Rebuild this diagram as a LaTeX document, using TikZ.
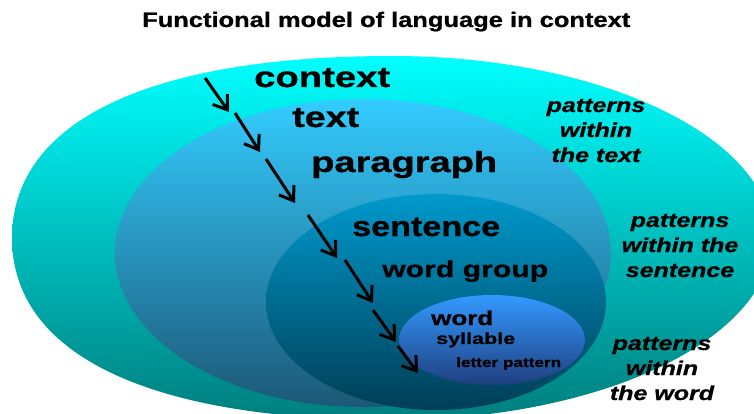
\documentclass[tikz,border=0pt]{standalone}
\usepackage{graphicx}
\usepackage{fontspec}
\setmainfont{Liberation Sans}[BoldFeatures={FakeBold=0.8},BoldItalicFeatures={FakeBold=0.8}]
\usetikzlibrary{arrows.meta}
\definecolor{oneT}{RGB}{0,255,255}
\definecolor{oneB}{RGB}{0,126,126}
\definecolor{twoT}{RGB}{51,204,255}
\definecolor{twoB}{RGB}{28,88,118}
\definecolor{thrT}{RGB}{0,153,204}
\definecolor{thrB}{RGB}{0,62,86}
\definecolor{fouT}{RGB}{51,153,255}
\definecolor{fouB}{RGB}{31,63,127}
\newcommand{\wt}[3]{\resizebox{#1}{\height}{\fontsize{#2}{#2}\selectfont #3}}
\newcommand{\sxi}[1]{\scalebox{1.25}[1]{#1}}
\begin{document}
\begin{tikzpicture}[x=1pt,y=-1pt,
  lab/.style={inner sep=0pt, anchor=base west, font=\bfseries},
  pat/.style={inner sep=0pt, anchor=base, font=\bfseries\itshape\fontsize{20}{25}\selectfont},
  flow/.style={line width=3pt, -{Straight Barb[length=13pt,width=18pt,line width=3pt]}}]
\useasboundingbox (0,0) rectangle (754,414);
\begin{scope}
\clip (0,0) rectangle (754,414);
% outer shape: left half slightly fuller than an ellipse
\shade[top color=oneT, bottom color=oneB]
  (392,56) .. controls (148.8,56) and (12,121.5) .. (12,238)
  .. controls (12,354.5) and (148.8,420) .. (392,420)
  .. controls (601.9,420) and (772,338.5) .. (772,238)
  .. controls (772,137.5) and (601.9,56) .. (392,56) -- cycle;
\shade[top color=twoT, bottom color=twoB] (363,253) ellipse [x radius=248pt, y radius=154pt];
\shade[top color=thrT, bottom color=thrB] (436,302) ellipse [x radius=170pt, y radius=108pt];
\shade[top color=fouT, bottom color=fouB] (492,340) ellipse [x radius=93pt, y radius=45pt];
\end{scope}
% title
\node[lab] (title) at (142,27) {\wt{488pt}{21}{Functional model of language in context}};
% level labels
\node[lab] (context) at (254,87) {\wt{136pt}{29}{context}};
\node[lab] (text) at (292,127) {\wt{67pt}{29}{text}};
\node[lab] (paragraph) at (311,172) {\wt{186pt}{29}{paragraph}};
\node[lab] (sentence) at (352,236) {\wt{148pt}{28}{sentence}};
\node[lab] (wordgroup) at (382,277) {\wt{166pt}{23}{word group}};
\node[lab] (word) at (431,325) {\wt{62pt}{20}{word}};
\node[lab] (syllable) at (436,344) {\wt{79pt}{16}{syllable}};
\node[lab] (letter) at (456,367) {\wt{105pt}{13.5}{letter pattern}};
% pattern labels
\node[pat] (p1a) at (596,112) {\sxi{patterns}};
\node[pat] (p1b) at (596,137) {\sxi{within}};
\node[pat] (p1c) at (596,162) {\sxi{the text}};
\node[pat] (p2a) at (680,227) {\sxi{patterns}};
\node[pat] (p2b) at (680,252) {\sxi{within the}};
\node[pat] (p2c) at (680,277) {\sxi{sentence}};
\node[pat] (p3a) at (662,350) {\sxi{patterns}};
\node[pat] (p3b) at (662,375) {\sxi{within}};
\node[pat] (p3c) at (662,400) {\sxi{the word}};
% arrows
\coordinate (a1s) at (205,78);  \coordinate (a1e) at (229,112);
\coordinate (a2s) at (235,113); \coordinate (a2e) at (260,152);
\coordinate (a3s) at (266,159); \coordinate (a3e) at (295,203);
\coordinate (a4s) at (308,215); \coordinate (a4e) at (337,258);
\coordinate (a5s) at (345,260); \coordinate (a5e) at (373,303);
\coordinate (a6s) at (373,310); \coordinate (a6e) at (396,342);
\coordinate (a7s) at (398,346); \coordinate (a7e) at (418,373);
\foreach \i in {1,...,7} {\draw[flow] (a\i s) -- (a\i e);}
\end{tikzpicture}
\end{document}
